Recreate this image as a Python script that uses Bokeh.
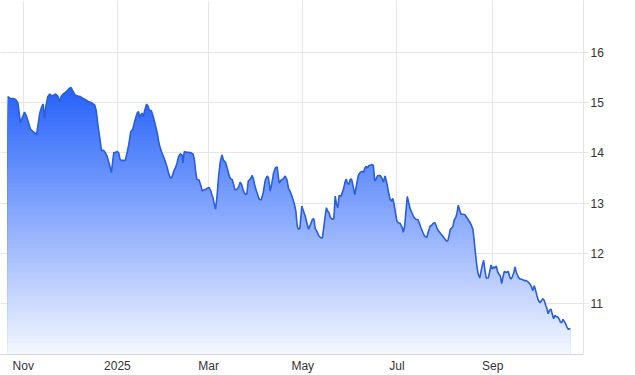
import numpy as np
from datetime import datetime, timedelta
from bokeh.plotting import figure
from bokeh.models import ColumnDataSource, FixedTicker, Range1d
from bokeh.embed import file_html
from bokeh.resources import INLINE

# ---- data ----
start_date = "2024-10-22"
day_offset = [
    0, 1.7, 3.5, 5.0, 6.5, 8.2, 9.5, 10.8, 12.1, 13.4, 14.7, 16.4, 17.7, 18.6, 19.4, 20.7, 22.0, 22.9, 23.7, 24.6,
    25.9, 27.2, 28.5, 29.8, 31.0, 32.3, 33.6, 34.5, 36.2, 38.0, 39.7, 41.0, 42.3, 43.6, 45.3, 47.0, 48.8, 50.5, 52.2,
    54.6, 56.3, 57.2, 58.5, 60.0, 60.6, 62.1, 63.2, 64.3, 65.8, 67.1, 67.9, 68.6, 69.7, 70.8, 71.8, 72.7, 73.5, 75.0,
    76.1, 77.2, 78.3, 79.6, 80.9, 82.1, 83.0, 83.9, 84.7, 85.4, 86.0, 86.9, 87.8, 88.6, 89.9, 90.8, 91.7, 92.9, 94.2,
    95.5, 96.8, 98.1, 99.4, 100.7, 102.0, 103.1, 104.1, 105.2,
    106.3, 107.4, 108.5, 109.6, 110.6, 111.7, 112.8, 113.4, 114.3, 115.6, 117.1, 118.6, 119.9, 120.8, 121.6, 122.5,
    123.8, 125.1, 125.9, 126.8, 127.9, 129.0, 130.3, 131.1, 131.9, 132.8, 133.7, 134.5, 135.4, 136.5, 137.6, 138.7,
    139.7, 141.0, 142.3, 143.6, 144.5, 145.3, 146.2, 147.1, 147.9, 148.8, 149.7, 150.5, 151.4, 152.3, 153.1, 153.9,
    154.8, 155.7, 157.0, 158.3, 159.1, 160.0,
    161.5, 162.8, 164.1, 165.4, 166.7, 168.0, 168.8, 169.9, 171.0, 172.1, 173.2, 174.4, 175.7, 177.0, 178.3, 179.6,
    180.7, 181.8, 183.0, 184.3, 185.6, 186.5, 187.4, 188.2, 189.1, 190.4, 191.5, 192.6, 193.7, 194.7, 196.0, 197.3,
    198.2, 199.0, 200.3, 201.6, 202.9, 203.7, 204.6, 205.5, 206.3, 207.2, 208.1, 208.9, 210.2, 211.1, 212.0, 212.8,
    213.7, 214.5,
    215.8, 217.1, 218.4, 219.1, 219.9, 220.8, 221.7, 222.5, 223.4, 224.7, 226.0, 227.0, 228.1, 229.4, 230.3, 231.2,
    232.0, 232.8, 233.8, 234.6, 235.7, 236.7, 237.6, 238.5, 239.3, 240.2, 241.1, 242.2, 243.2, 244.3, 245.4, 246.4,
    247.5, 248.6, 249.3, 250.1, 251.0, 251.9, 252.9, 254.0, 255.3, 256.1, 257.0, 257.9, 258.7, 259.6, 260.5, 261.8,
    263.1, 264.3, 265.6, 266.5, 267.4, 268.7, 270.0, 271.3,
    272.3, 273.4, 274.5, 275.5, 276.6, 277.7, 278.8, 280.1, 281.4, 282.7, 283.9, 284.9, 285.7, 286.5, 287.4, 288.3,
    289.1, 290.0, 290.9, 291.7, 292.6, 293.5, 294.7, 296.0, 297.3, 298.6, 299.9, 301.2, 302.1, 303.0, 303.8, 304.6,
    305.6, 306.4, 307.2, 308.1, 309.0, 309.8, 311.1, 312.0, 312.9, 313.7, 314.6, 315.5, 316.3, 317.2, 318.0, 318.9,
    319.8, 320.6, 321.5,
    322.8, 324.1, 325.0, 325.8, 326.6, 327.6, 328.4, 329.2, 330.5, 331.8, 333.1, 334.4, 335.7, 337.0, 338.3, 339.2,
    340.0, 340.9, 341.8, 342.6, 343.5, 344.6, 345.7, 346.5, 347.3, 348.3, 349.1, 349.9, 350.8, 351.7, 352.5, 353.4,
    354.3, 355.1, 356.0, 356.9, 357.7, 358.6, 359.5, 360.3, 361.2, 362.0, 362.9, 364.2,
]
price = [
    15.12, 15.08, 15.08, 15.06, 15.00, 14.60, 14.71, 14.81, 14.73, 14.60, 14.47, 14.42, 14.39, 14.36, 14.52, 14.79,
    14.92, 14.97, 14.69, 14.92, 15.12, 15.17, 15.13, 15.15, 15.17, 15.13, 15.02, 15.12, 15.18, 15.22, 15.28, 15.30,
    15.22, 15.15, 15.13, 15.12, 15.08, 15.05, 15.02,
    14.99, 14.95, 14.85, 14.52, 14.20, 14.05, 14.05, 14.00, 13.93, 13.77, 13.61, 13.83, 14.00, 14.01, 14.03, 14.00,
    13.87, 13.85, 13.85, 13.85, 14.00, 14.16, 14.42, 14.47, 14.62, 14.72, 14.80, 14.82, 14.69, 14.75, 14.79, 14.72,
    14.84, 14.97, 14.93, 14.84, 14.84, 14.72, 14.56, 14.39, 14.16, 14.03, 13.93, 13.83, 13.72, 13.60, 13.50,
    13.52, 13.63, 13.70, 13.80, 13.93, 13.98, 13.96, 13.80, 14.03, 14.01, 14.01, 14.00, 13.98, 13.87, 13.63, 13.47,
    13.46, 13.34, 13.24, 13.26, 13.27, 13.29, 13.31, 13.27, 13.19, 13.11, 12.98, 12.88, 13.11, 13.54, 13.83, 13.96,
    13.85, 13.81, 13.67, 13.52, 13.48, 13.47, 13.37, 13.26, 13.27, 13.29, 13.34, 13.42, 13.37, 13.27, 13.21, 13.17,
    13.19, 13.44, 13.48, 13.55, 13.47, 13.34,
    13.19, 13.08, 13.06, 13.21, 13.46, 13.54, 13.50, 13.24, 13.40, 13.60, 13.70, 13.72, 13.40, 13.46, 13.48, 13.54,
    13.47, 13.29, 13.22, 13.11, 12.98, 12.84, 12.54, 12.48, 12.50, 12.94, 12.84, 12.74, 12.60, 12.48, 12.58, 12.68,
    12.69, 12.50, 12.43, 12.34, 12.31, 12.31, 12.52, 12.74, 12.91, 12.84, 12.80, 12.71, 12.68, 12.69, 13.14, 12.98,
    12.91, 13.15,
    13.14, 13.25, 13.42, 13.48, 13.40, 13.37, 13.47, 13.48, 13.37, 13.17, 13.40, 13.55, 13.61, 13.63, 13.61, 13.70,
    13.73, 13.70, 13.75, 13.75, 13.77, 13.75, 13.44, 13.48, 13.54, 13.55, 13.55, 13.50, 13.42, 13.54, 13.40, 13.24,
    13.08, 13.04, 13.09, 12.98, 12.81, 12.65, 12.61, 12.60, 12.52, 12.42, 12.55, 12.88, 13.13, 13.01, 12.89, 12.80,
    12.71, 12.68, 12.67, 12.60, 12.52, 12.42, 12.34, 12.32,
    12.43, 12.54, 12.56, 12.60, 12.61, 12.52, 12.45, 12.40, 12.35, 12.30, 12.25, 12.25, 12.35, 12.48, 12.50, 12.55,
    12.67, 12.71, 12.81, 12.96, 12.86, 12.78, 12.78, 12.77, 12.71, 12.65, 12.58, 12.48, 12.22, 11.95, 11.73, 11.59,
    11.51, 11.64, 11.76, 11.86, 11.66, 11.51, 11.51, 11.63, 11.77, 11.69, 11.73, 11.71, 11.75, 11.63, 11.59, 11.55,
    11.40, 11.53, 11.64,
    11.62, 11.64, 11.53, 11.49, 11.53, 11.61, 11.73, 11.63, 11.53, 11.49, 11.48, 11.46, 11.46, 11.43, 11.38, 11.33,
    11.26, 11.36, 11.26, 11.16, 11.07, 11.02, 11.07, 11.10, 11.07, 10.97, 10.90, 10.80, 10.87, 10.89, 10.80, 10.70,
    10.77, 10.74, 10.74, 10.70, 10.64, 10.62, 10.69, 10.65, 10.60, 10.54, 10.49, 10.51,
]
x_tick_dates = ["2024-11-01", "2025-01-01", "2025-03-01", "2025-05-01", "2025-07-01", "2025-09-01"]
x_tick_labels = ["Nov", "2025", "Mar", "May", "Jul", "Sep"]
y_ticks = [11, 12, 13, 14, 15, 16]

# ---- build ----
t0 = datetime.strptime(start_date, "%Y-%m-%d")
dates = [t0 + timedelta(days=d) for d in day_offset]
vals = np.array(price)

def ms(dt):
    return (dt - datetime(1970, 1, 1)).total_seconds() * 1000.0

x_lo = t0 - timedelta(days=4.73)
x_hi = x_lo + timedelta(days=377.5)
y_lo, y_hi = 9.99, 17.03

p = figure(width=635, height=375, x_axis_type="datetime", y_axis_location="right",
           output_backend="svg", toolbar_location=None,
           x_range=Range1d(ms(x_lo), ms(x_hi)), y_range=Range1d(y_lo, y_hi),
           min_border_left=0, min_border_top=0, min_border_right=52, min_border_bottom=19)
p.outline_line_color = None
p.background_fill_color = "white"
p.border_fill_color = "white"

# gradient fill under the curve, drawn as stacked clipped areas
top_col = np.array([38, 98, 250])
bot_col = np.array([246, 248, 255])
vmax = vals.max()
n_layers = 70
levels = np.linspace(y_lo, vmax, n_layers + 1)[1:][::-1]
for L in levels:
    t = (L - y_lo) / (vmax - y_lo)
    c = bot_col + (top_col - bot_col) * t
    col = "#%02x%02x%02x" % tuple(int(round(v)) for v in c)
    src = ColumnDataSource(dict(x=dates, y2=np.minimum(vals, L)))
    p.varea(x="x", y1=y_lo, y2="y2", source=src, fill_color=col, fill_alpha=1.0)

p.line(dates, vals, line_color="#2a5fd9", line_width=1.6)

# axes
xt = [ms(datetime.strptime(d, "%Y-%m-%d")) for d in x_tick_dates]
p.xaxis.ticker = FixedTicker(ticks=xt)
p.xgrid.ticker = FixedTicker(ticks=xt)
p.xaxis.major_label_overrides = {k: v for k, v in zip(xt, x_tick_labels)}
p.yaxis.ticker = FixedTicker(ticks=y_ticks)
p.ygrid.ticker = FixedTicker(ticks=y_ticks)

for g in (p.xgrid, p.ygrid):
    g.grid_line_color = "#e6e6e6"
    g.grid_line_width = 1

for ax in (p.xaxis, p.yaxis):
    ax.major_label_text_font = "Liberation Sans"
    ax.major_label_text_font_size = "12px"
    ax.major_label_text_color = "#333333"
    ax.minor_tick_line_color = None

p.xaxis.axis_line_color = "#d6d6d6"
p.xaxis.major_tick_line_color = None
p.xaxis.major_tick_out = 0
p.xaxis.major_label_standoff = 4

p.yaxis.axis_line_color = "#e6e6e6"
p.yaxis.major_tick_line_color = "#e6e6e6"
p.yaxis.major_tick_in = 0
p.yaxis.major_tick_out = 5
p.yaxis.major_label_standoff = 2

open("out.html", "w").write(file_html(p, INLINE))
